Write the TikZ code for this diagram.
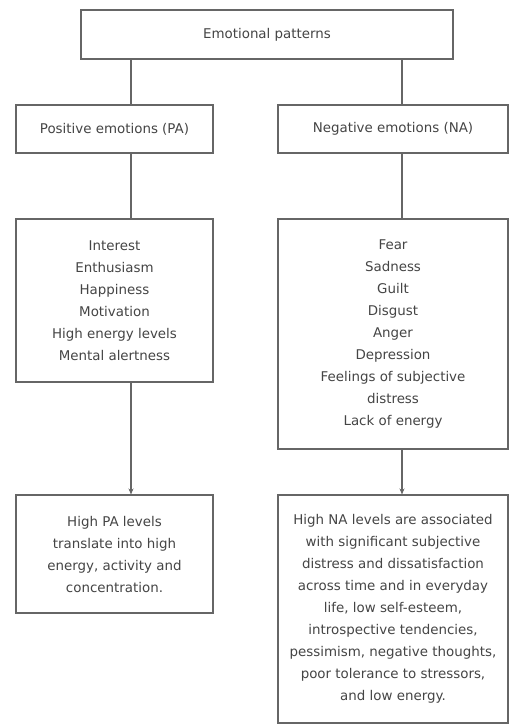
\documentclass[tikz,border=0pt]{standalone}
\usepackage{fontspec}
\setmainfont{DejaVu Sans}
\usetikzlibrary{arrows.meta}
\definecolor{linec}{HTML}{666666}
\definecolor{textc}{HTML}{454545}
\begin{document}
\begin{tikzpicture}[x=1pt,y=-1pt,
  box/.style={draw=linec, line width=1.1pt, text=textc, align=center,
    inner sep=0pt, font=\fontsize{13.4}{22}\selectfont},
  conn/.style={draw=linec, line width=1.1pt},
  arr/.style={conn, -{Stealth[length=6pt,width=5pt]}}]
\useasboundingbox (0,0) rectangle (509,724);
\fill[white] (0,0) rectangle (509,724);
% nodes (centers)
\node[box, minimum width=372, minimum height=49] (top) at (267,34.5) {Emotional patterns};
\node[box, minimum width=197, minimum height=48] (pa) at (114.5,129) {Positive emotions (PA)};
\node[box, minimum width=230, minimum height=48] (na) at (393,129) {Negative emotions (NA)};
\node[box, minimum width=197, minimum height=163] (palist) at (114.5,300.5) {Interest\\Enthusiasm\\Happiness\\Motivation\\High energy levels\\Mental alertness};
\node[box, minimum width=230, minimum height=230] (nalist) at (393,334) {Fear\\Sadness\\Guilt\\Disgust\\Anger\\Depression\\Feelings of subjective\\distress\\Lack of energy};
\node[box, minimum width=197, minimum height=118] (pares) at (114.5,554) {High PA levels\\translate into high\\energy, activity and\\concentration.};
\node[box, minimum width=230, minimum height=228] (nares) at (393,609) {High NA levels are associated\\with significant subjective\\distress and dissatisfaction\\across time and in everyday\\life, low self-esteem,\\introspective tendencies,\\pessimism, negative thoughts,\\poor tolerance to stressors,\\and low energy.};
% connector columns
\coordinate (cl) at (131,0);
\coordinate (cr) at (402,0);
\draw[conn] (top.south -| cl) -- (pa.north -| cl);
\draw[conn] (top.south -| cr) -- (na.north -| cr);
\draw[conn] (pa.south -| cl) -- (palist.north -| cl);
\draw[conn] (na.south -| cr) -- (nalist.north -| cr);
\draw[arr] (palist.south -| cl) -- (pares.north -| cl);
\draw[arr] (nalist.south -| cr) -- (nares.north -| cr);
\end{tikzpicture}
\end{document}
